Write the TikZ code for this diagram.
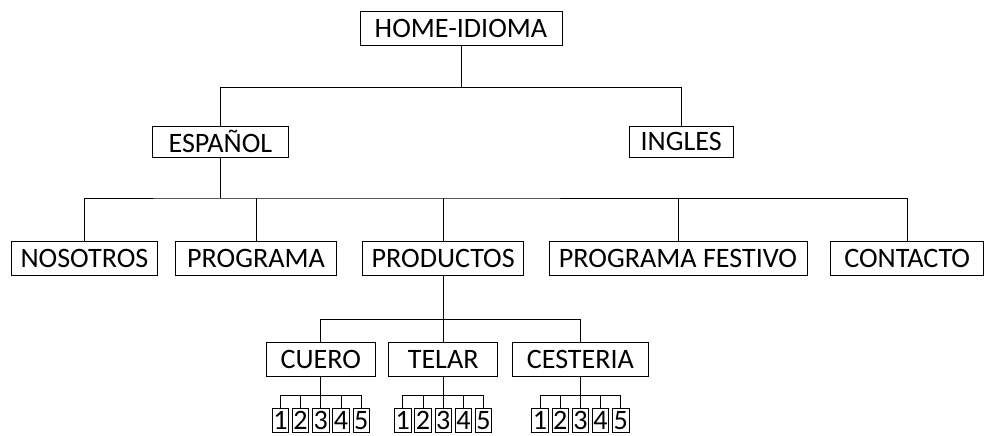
\documentclass[tikz,border=0pt]{standalone}
\usepackage{fontspec}
\setmainfont{Carlito}
\usetikzlibrary{positioning}

\begin{document}
\begin{tikzpicture}[
  every node/.style={font=\fontsize{20}{24}\selectfont},
  page/.style={draw, line width=0.6pt, inner sep=0pt, minimum height=0.86cm},
  numbox/.style={draw, line width=0.6pt, inner sep=0pt, minimum width=0.41cm, minimum height=0.6cm},
  link/.style={line width=0.6pt}
]
\useasboundingbox (0,0) rectangle (24.75,-10.875);

% ---------- Root ----------
\node[page, minimum width=5.05cm, minimum height=0.83cm] (home) at (11.525,-0.71) {HOME-IDIOMA};

% ---------- Languages ----------
\node[page, minimum width=3.38cm, minimum height=0.78cm] (esp) at (5.51,-3.54) {ESPAÑOL};
\node[page, minimum width=2.60cm, minimum height=0.78cm] (ing) at (17.03,-3.54) {INGLES};

\coordinate (bus1) at (11.525,-2.18);
\draw[link] (home.south) -- (bus1);
\draw[link] (esp.north) |- (bus1) -| (ing.north);

% ---------- Main sections ----------
\node[page, minimum width=3.63cm] (noso) at (2.11,-6.46) {NOSOTROS};
\node[page, minimum width=4.03cm] (prog) at (6.40,-6.46) {PROGRAMA};
\node[page, minimum width=4.03cm] (prod) at (11.08,-6.46) {PRODUCTOS};
\node[page, minimum width=6.45cm] (fest) at (16.95,-6.46) {PROGRAMA FESTIVO};
\node[page, minimum width=3.83cm] (cont) at (22.68,-6.46) {CONTACTO};

\coordinate (bus2) at (5.51,-4.95);
\draw[link] (esp.south) -- (bus2);
\draw[link] (noso.north) |- (bus2) -| (cont.north);
\draw[link] (prog.north) -- (prog.north |- bus2);
\draw[link] (prod.north) -- (prod.north |- bus2);
\draw[link] (fest.north) -- (fest.north |- bus2);

% ---------- Products ----------
\node[page, minimum width=2.73cm] (cuero) at (8.02,-8.99) {CUERO};
\node[page, minimum width=2.73cm] (telar) at (11.08,-8.99) {TELAR};
\node[page, minimum width=3.38cm] (cest) at (14.51,-8.99) {CESTERIA};

\coordinate (bus3) at (11.08,-7.98);
\draw[link] (prod.south) -- (telar.north);
\draw[link] (cuero.north) |- (bus3) -| (cest.north);

% ---------- Numbered pages ----------
\foreach \g/\x in {cuero/8.02, telar/11.08, cest/14.51} {
  \coordinate (\g-bus) at (\x,-9.88);
  \foreach \i in {1,...,5}
    \node[numbox] (\g-\i) at ({\x+(\i-3)*0.505},-10.52) {\i};
  \draw[link] (\g.south) -- (\g-bus);
  \draw[link] (\g-1.north) |- (\g-bus) -| (\g-5.north);
  \foreach \i in {2,3,4}
    \draw[link] (\g-\i.north) -- (\g-\i.north |- \g-bus);
}

\end{tikzpicture}
\end{document}
